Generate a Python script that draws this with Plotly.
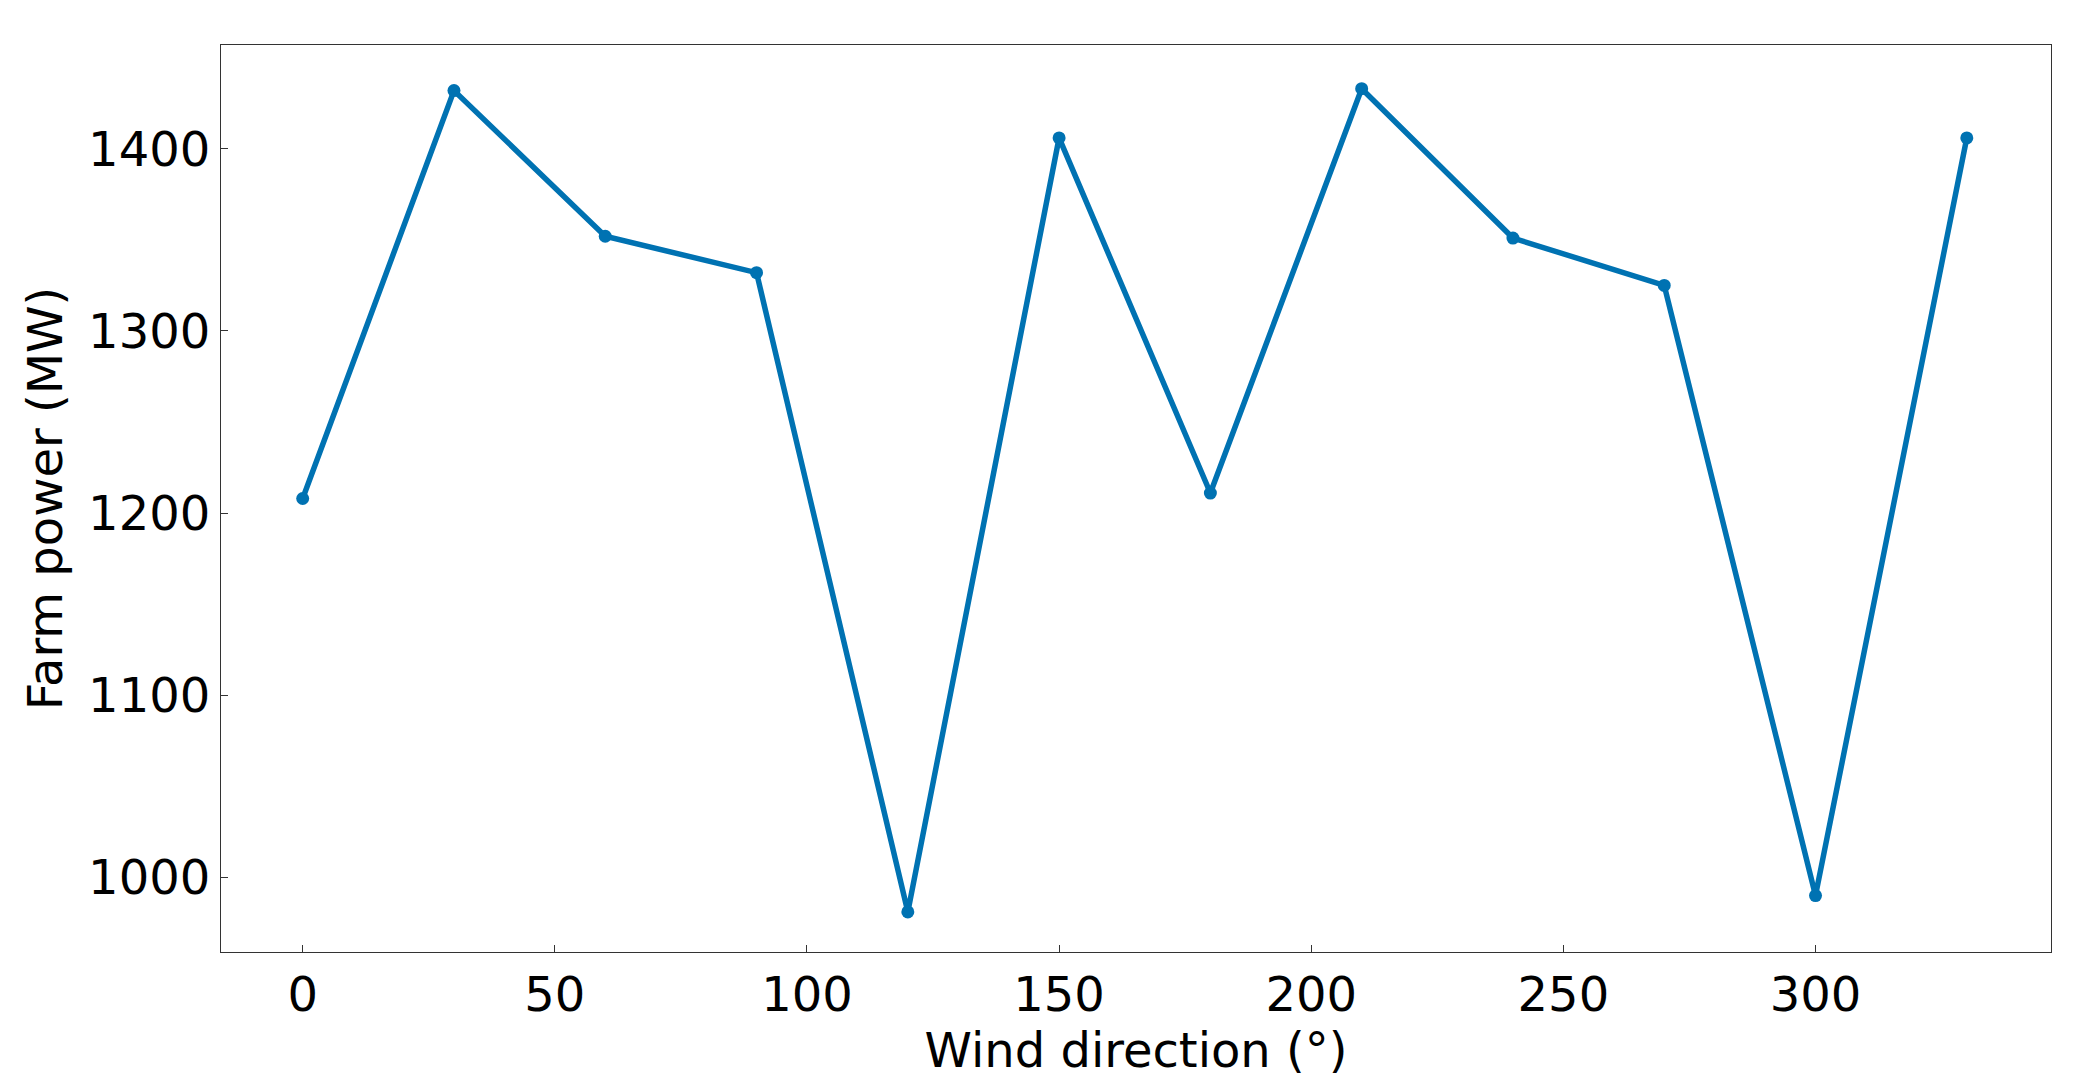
import plotly.graph_objects as go

wind_direction = [0, 30, 60, 90, 120, 150, 180, 210, 240, 270, 300, 330]
farm_power = [1208, 1432, 1352, 1332, 981, 1406, 1211, 1433, 1351, 1325, 990, 1406]

fig = go.Figure(go.Scatter(
    x=wind_direction, y=farm_power, mode='lines+markers',
    line=dict(color='#0072B2', width=5.5),
    marker=dict(color='#0072B2', size=13),
))

axis_common = dict(showgrid=False, zeroline=False, showline=True, linecolor='#333333',
                   linewidth=1.3, mirror=True, ticks='inside', ticklen=7, tickcolor='#333333',
                   tickfont=dict(family='DejaVu Sans', size=48, color='black'),
                   title_font=dict(family='DejaVu Sans', size=48, color='black'))

fig.update_layout(
    width=2098, height=1073, plot_bgcolor='white', paper_bgcolor='white',
    margin=dict(l=213, r=55, t=37, b=129),
    showlegend=False,
    xaxis=dict(range=[-16.2, 346.7], tickvals=[0, 50, 100, 150, 200, 250, 300],
               title=dict(text='Wind direction (°)', standoff=0), **axis_common),
    yaxis=dict(range=[959, 1457], tickvals=[1000, 1100, 1200, 1300, 1400],
               title=dict(text='Farm power (MW)', standoff=10), **axis_common),
)

fig.write_html("out.html")
